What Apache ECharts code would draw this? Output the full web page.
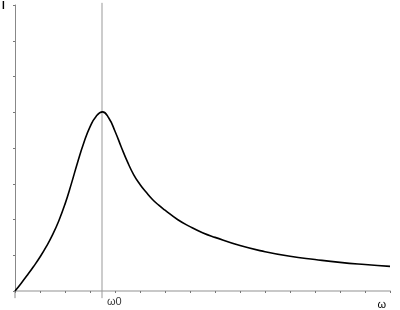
<!DOCTYPE html>
<html>
<head>
<meta charset="utf-8">
<script src="https://cdn.jsdelivr.net/npm/echarts@6/dist/echarts.min.js"></script>
<style>html,body{margin:0;padding:0;background:#fff}#c{width:400px;height:310px}</style>
</head>
<body>
<div id="c"></div>
<script>
var omegaValues = [0, 0.25, 0.5, 0.75, 1, 1.25, 1.5, 1.75, 2, 2.25, 2.5, 2.75, 3, 3.25, 3.5, 3.75, 4, 4.25, 4.5, 4.75, 5, 5.25, 5.5, 5.75, 6, 6.5, 7, 7.5, 8, 9, 10, 11, 12, 13, 14, 15];
var currentValues = [0, 0.22, 0.45, 0.69, 0.95, 1.24, 1.57, 1.96, 2.43, 2.99, 3.59, 4.14, 4.59, 4.89, 5.01, 4.84, 4.47, 4.03, 3.61, 3.25, 2.98, 2.76, 2.56, 2.4, 2.26, 2.0, 1.8, 1.63, 1.5, 1.27, 1.1, 0.97, 0.88, 0.8, 0.74, 0.69];
var omega0 = 3.48;
var omegaLabel = 'ω';
var omega0Label = 'ω0';
var yLabel = 'I';

var chart = echarts.init(document.getElementById('c'), null, {renderer: 'canvas'});
chart.setOption({
  animation: false,
  grid: {left: 15, right: 10, top: 5, bottom: 15, containLabel: false},
  xAxis: {
    type: 'value', min: 0, max: 15, interval: 1,
    axisLine: {show: true, lineStyle: {color: '#c8c8c8', width: 2}},
    axisTick: {show: true, length: 2, inside: false, lineStyle: {color: '#777'}},
    splitLine: {show: false},
    axisLabel: {
      show: true, margin: 8, align: 'right', fontSize: 11, color: '#000', fontFamily: 'Liberation Sans',
      padding: [0, 4, 0, 0],
      formatter: function (v) { return v === 15 ? omegaLabel : ''; }
    }
  },
  yAxis: {
    type: 'value', min: 0, max: 8, interval: 1,
    axisLine: {show: true, lineStyle: {color: '#888', width: 1}},
    axisTick: {show: true, length: 2, lineStyle: {color: '#777'}},
    splitLine: {show: false},
    axisLabel: {show: false}
  },
  graphic: [{type: 'text', left: 2, top: 1, style: {text: yLabel, fontSize: 10, fontFamily: 'Liberation Sans', fill: '#000', fontWeight: 'bold'}}],
  series: [
    {
      type: 'line', clip: false, symbol: 'none', silent: true,
      data: [[omega0, -0.2], [omega0, 8.06]],
      lineStyle: {color: '#999', width: 1},
      z: 1
    },
    {
      type: 'scatter', clip: false, silent: true, symbolSize: 0,
      data: [[omega0, -0.2]],
      label: {show: true, position: 'right', distance: 5, offset: [0, 4], formatter: omega0Label, fontSize: 11, color: '#000', fontFamily: 'Liberation Sans'},
      z: 1
    },
    {
      type: 'line', clip: false, symbol: 'none', silent: true,
      data: [[0, -0.2], [0, 0]],
      lineStyle: {color: '#888', width: 1},
      z: 1
    },
    {
      type: 'line', smooth: 0.5, symbol: 'none',
      data: omegaValues.map(function (x, i) { return [x, currentValues[i]]; }),
      lineStyle: {color: '#000', width: 1.6},
      z: 3
    }
  ]
});
</script>
</body>
</html>
